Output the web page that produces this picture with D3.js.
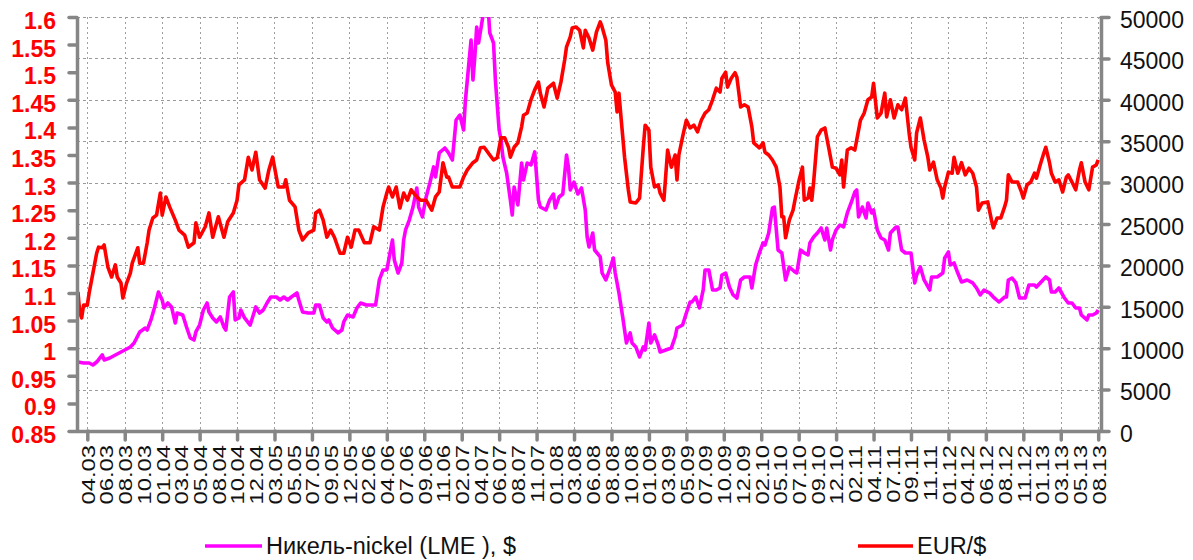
<!DOCTYPE html>
<html><head><meta charset="utf-8">
<script src="https://cdn.jsdelivr.net/npm/d3@7"></script>
<style>body{margin:0;background:#fff;} svg{display:block;}</style>
</head><body>
<svg id="chart" width="1193" height="560"></svg>
<script>
// ---- data ----
const tickLabels = ["04.03","06.03","08.03","10.03","01.04","03.04","05.04","08.04","10.04","12.04",
"03.05","05.05","07.05","09.05","12.05","02.06","04.06","07.06","09.06","11.06",
"02.07","04.07","06.07","08.07","11.07","01.08","03.08","06.08","08.08","10.08",
"01.09","03.09","05.09","07.09","10.09","12.09","02.10","05.10","07.10","09.10",
"12.10","02.11","04.11","07.11","09.11","11.11","01.12","04.12","06.12","08.12",
"11.12","01.13","03.13","05.13","08.13"];
const totalWeeks = 546;          // weekly observations
const firstLabelWeek = 5;        // week index of the first label
const labelEveryWeeks = 10;
const tickEveryWeeks = 20;

const leftTicks = [0.85,0.9,0.95,1,1.05,1.1,1.15,1.2,1.25,1.3,1.35,1.4,1.45,1.5,1.55,1.6];
const rightTicks = [0,5000,10000,15000,20000,25000,30000,35000,40000,45000,50000];

// EUR/$ : [week, rate]
const eurSeries = [[0,1.102],[1,1.064],[2,1.055],[3,1.078],[5,1.078],[6,1.100],[8,1.136],[10,1.172],[11,1.183],[13,1.182],[14,1.187],[16,1.147],[18,1.129],[20,1.151],[21,1.129],[23,1.118],[24,1.091],[26,1.118],[28,1.136],[29,1.154],[32,1.182],[33,1.154],[35,1.154],[37,1.191],[38,1.214],[40,1.236],[42,1.241],[44,1.281],[45,1.241],[47,1.274],[49,1.256],[52,1.232],[54,1.214],[57,1.205],[59,1.183],[62,1.191],[63,1.227],[65,1.201],[68,1.220],[70,1.245],[72,1.201],[75,1.238],[78,1.201],[80,1.229],[83,1.245],[85,1.268],[86,1.296],[89,1.305],[91,1.346],[93,1.323],[95,1.355],[97,1.305],[100,1.290],[102,1.323],[104,1.346],[107,1.292],[110,1.292],[111,1.305],[113,1.268],[116,1.256],[118,1.214],[120,1.196],[123,1.209],[126,1.214],[127,1.245],[129,1.250],[131,1.232],[133,1.201],[135,1.214],[137,1.201],[140,1.172],[142,1.172],[144,1.201],[146,1.183],[148,1.214],[150,1.214],[153,1.191],[156,1.191],[158,1.220],[161,1.214],[163,1.256],[165,1.281],[166,1.292],[168,1.274],[170,1.292],[172,1.254],[174,1.281],[176,1.268],[178,1.287],[181,1.274],[183,1.268],[186,1.268],[189,1.250],[191,1.274],[193,1.283],[195,1.336],[197,1.310],[198,1.310],[200,1.292],[204,1.292],[206,1.310],[208,1.323],[211,1.336],[213,1.341],[215,1.363],[217,1.364],[220,1.350],[222,1.341],[224,1.345],[226,1.381],[228,1.381],[230,1.364],[231,1.346],[233,1.364],[235,1.372],[237,1.401],[238,1.422],[240,1.426],[242,1.450],[244,1.468],[246,1.482],[247,1.462],[249,1.437],[251,1.471],[253,1.477],[254,1.480],[256,1.453],[258,1.482],[260,1.522],[261,1.546],[263,1.564],[264,1.580],[266,1.582],[268,1.576],[270,1.544],[271,1.576],[273,1.562],[275,1.540],[277,1.573],[279,1.591],[280,1.582],[282,1.558],[283,1.517],[285,1.477],[287,1.464],[288,1.428],[289,1.462],[290,1.422],[292,1.346],[294,1.287],[295,1.265],[298,1.263],[300,1.272],[302,1.364],[303,1.404],[305,1.395],[306,1.328],[308,1.292],[310,1.296],[311,1.281],[313,1.268],[315,1.359],[317,1.328],[319,1.350],[320,1.305],[321,1.350],[323,1.383],[325,1.413],[327,1.399],[329,1.404],[331,1.392],[333,1.413],[335,1.426],[337,1.432],[339,1.450],[341,1.471],[343,1.464],[344,1.489],[346,1.500],[347,1.473],[349,1.489],[351,1.499],[352,1.491],[354,1.437],[356,1.441],[358,1.437],[360,1.401],[361,1.372],[364,1.363],[366,1.372],[367,1.355],[369,1.350],[371,1.341],[373,1.328],[375,1.292],[376,1.238],[377,1.238],[378,1.200],[380,1.232],[382,1.250],[383,1.268],[385,1.301],[387,1.328],[388,1.268],[390,1.272],[391,1.290],[392,1.268],[393,1.301],[395,1.383],[397,1.395],[399,1.399],[401,1.364],[403,1.328],[405,1.326],[407,1.314],[408,1.341],[409,1.292],[411,1.359],[413,1.363],[415,1.359],[416,1.377],[418,1.413],[420,1.426],[422,1.450],[424,1.455],[425,1.480],[427,1.417],[429,1.426],[431,1.462],[432,1.419],[434,1.450],[436,1.417],[438,1.441],[440,1.432],[442,1.453],[444,1.390],[445,1.364],[447,1.341],[448,1.390],[450,1.417],[452,1.377],[454,1.346],[455,1.323],[457,1.337],[459,1.305],[461,1.290],[462,1.272],[463,1.292],[465,1.319],[467,1.317],[468,1.346],[470,1.317],[472,1.336],[474,1.314],[476,1.326],[478,1.317],[480,1.292],[481,1.250],[483,1.263],[486,1.265],[488,1.232],[489,1.218],[491,1.236],[493,1.236],[495,1.256],[496,1.268],[497,1.314],[499,1.301],[502,1.301],[504,1.283],[505,1.272],[507,1.296],[509,1.301],[511,1.317],[512,1.308],[514,1.332],[516,1.354],[517,1.364],[519,1.336],[520,1.317],[522,1.301],[524,1.305],[526,1.283],[528,1.310],[529,1.314],[531,1.301],[533,1.287],[535,1.323],[536,1.336],[538,1.301],[540,1.287],[542,1.328],[544,1.332],[545,1.341]];

// Nickel (LME), $ per tonne : [week, price]
const nickelSeries = [[0,8330],[3,8210],[6,8210],[8,7970],[10,8330],[13,9180],[14,8580],[17,8820],[20,9180],[22,9420],[25,9780],[28,10150],[30,10630],[33,11960],[36,12440],[37,12200],[39,13410],[41,14980],[43,16790],[45,15820],[46,14860],[48,15460],[50,14980],[52,13040],[53,14250],[56,14010],[58,12560],[60,11230],[62,10990],[63,11960],[65,12800],[67,14610],[69,15460],[70,14370],[72,13650],[74,13170],[76,13770],[78,12560],[79,12200],[81,16180],[83,16790],[84,13410],[86,13650],[87,14610],[89,13650],[92,12800],[94,14250],[95,14980],[97,14250],[99,14610],[101,15460],[103,16180],[106,16180],[108,15820],[110,16180],[112,15820],[114,16180],[117,16670],[118,15820],[120,14370],[123,14250],[126,14250],[127,15220],[129,15220],[131,13650],[133,13170],[134,13410],[136,12440],[139,11840],[141,12200],[142,13170],[144,14010],[147,13770],[149,14860],[151,15460],[154,15220],[157,15220],[159,15220],[161,18240],[163,19450],[165,19450],[166,20650],[168,23070],[169,20650],[171,19080],[173,20290],[174,23070],[175,24280],[177,25480],[179,27050],[181,29350],[182,27050],[184,25850],[186,28260],[188,29950],[190,31890],[191,30680],[193,33580],[196,34180],[198,33580],[200,32730],[202,37560],[204,38160],[206,36350],[207,39980],[208,42390],[210,47220],[211,42390],[212,45170],[213,48790],[214,46860],[216,49640],[217,51000],[219,51500],[220,48070],[222,46860],[223,42390],[225,36350],[226,35150],[227,33090],[229,31160],[231,27900],[232,26090],[233,29470],[235,27300],[237,32370],[238,30310],[240,32370],[242,32130],[244,33700],[246,27900],[247,27050],[250,26690],[252,27900],[254,28620],[255,26930],[257,28260],[259,28620],[261,33330],[262,31890],[263,29110],[265,30070],[267,28620],[269,29350],[271,26690],[272,23430],[273,22220],[275,23910],[276,21860],[279,21020],[280,19080],[282,18240],[284,19450],[286,20890],[287,19080],[289,16670],[291,13770],[293,10630],[295,11840],[296,10630],[298,10150],[300,8940],[302,10150],[303,9780],[305,13040],[306,10630],[308,11600],[310,10390],[311,9540],[314,9780],[317,10030],[319,11350],[320,12440],[323,12800],[325,14250],[327,15580],[328,15580],[330,16180],[332,14860],[334,17030],[335,19450],[337,19450],[339,17030],[341,17030],[343,17270],[344,18840],[346,19080],[348,17390],[350,16430],[352,16060],[354,18240],[356,18600],[359,18600],[360,17270],[362,20050],[364,21500],[366,22710],[367,22460],[369,23910],[371,26930],[372,27050],[374,21860],[376,21500],[378,18240],[380,19810],[383,19200],[384,19080],[386,21860],[388,21500],[390,21260],[391,22710],[393,23430],[395,23910],[397,24520],[399,23070],[400,24520],[402,21860],[403,23070],[405,24280],[407,24880],[409,24640],[411,26330],[413,27540],[415,28870],[416,29110],[417,25850],[419,27050],[421,25730],[422,27540],[424,26330],[425,26690],[427,24280],[429,23310],[431,23070],[433,21860],[434,23910],[437,24640],[438,24640],[440,21860],[442,21500],[445,21500],[447,17880],[448,18840],[450,19810],[452,18240],[455,17030],[456,18600],[459,18600],[462,19080],[463,20890],[465,21620],[466,20050],[468,20290],[470,19080],[472,18000],[475,18240],[478,17880],[480,17270],[482,16430],[484,17030],[487,16670],[489,16180],[492,15580],[495,16180],[496,16180],[497,18240],[499,18480],[501,17880],[503,16060],[506,16060],[508,17630],[511,17630],[512,17390],[514,17880],[517,18600],[519,18240],[520,16790],[522,16790],[524,17270],[527,16060],[529,15460],[531,15460],[533,14860],[535,14860],[536,14010],[539,13410],[540,14010],[542,14010],[544,14250],[545,14610]];

const seriesNames = ["Никель-nickel (LME ), $", "EUR/$"];
const seriesColors = ["#FF00FF", "#FF0000"];

// ---- layout ----
const W = 1193, H = 560;
const plot = {left: 77, right: 1101, top: 17, bottom: 431};
const axisColor = "#868686";

const svg = d3.select("#chart");
const x = d3.scaleLinear().domain([-0.5, totalWeeks + 0.5]).range([plot.left, plot.right]);
const yL = d3.scaleLinear().domain([0.85, 1.6]).range([plot.bottom, plot.top]);
const yR = d3.scaleLinear().domain([0, 50000]).range([plot.bottom, plot.top]);

const labelWeeks = tickLabels.map((_, i) => firstLabelWeek + i * labelEveryWeeks);
const tickWeeks = labelWeeks.filter((_, i) => i % (tickEveryWeeks / labelEveryWeeks) === 0);

// gridlines
const grid = svg.append("g");
grid.selectAll("line.h").data(rightTicks).join("line")
  .attr("x1", plot.left).attr("x2", plot.right)
  .attr("y1", d => Math.round(yR(d)) + 0.5).attr("y2", d => Math.round(yR(d)) + 0.5)
  .attr("stroke", "#9a9a9a").attr("stroke-width", 1).attr("stroke-dasharray", "3,3");
grid.selectAll("line.v").data(tickWeeks).join("line")
  .attr("x1", d => Math.round(x(d)) + 0.5).attr("x2", d => Math.round(x(d)) + 0.5)
  .attr("y1", plot.top).attr("y2", plot.bottom)
  .attr("stroke", "#a0a0a0").attr("stroke-width", 1).attr("stroke-dasharray", "2,3");

// clip
svg.append("clipPath").attr("id", "clip").append("rect")
  .attr("x", plot.left).attr("y", plot.top)
  .attr("width", plot.right - plot.left).attr("height", plot.bottom - plot.top);

const lines = svg.append("g").attr("clip-path", "url(#clip)");
lines.append("path").datum(nickelSeries)
  .attr("fill", "none").attr("stroke", seriesColors[0]).attr("stroke-width", 3.6)
  .attr("stroke-linejoin", "round")
  .attr("d", d3.line().x(d => x(d[0])).y(d => yR(d[1])));
lines.append("path").datum(eurSeries)
  .attr("fill", "none").attr("stroke", seriesColors[1]).attr("stroke-width", 3.6)
  .attr("stroke-linejoin", "round")
  .attr("d", d3.line().x(d => x(d[0])).y(d => yL(d[1])));

function styleAxis(g) {
  g.select(".domain").attr("stroke", axisColor).attr("stroke-width", 3.5);
  g.selectAll(".tick line").attr("stroke", axisColor).attr("stroke-width", 3.5).attr("stroke-linecap", "round");
}

// left axis
const gL = svg.append("g").attr("transform", `translate(${plot.left},0)`)
  .call(d3.axisLeft(yL).tickValues(leftTicks).tickSize(8).tickSizeOuter(0).tickPadding(13)
    .tickFormat(d => String(+d.toFixed(2))));
styleAxis(gL);
gL.selectAll(".tick text").attr("fill", "#FF0000").attr("font-family", "Liberation Sans, Arial, sans-serif")
  .attr("font-weight", "bold").attr("font-size", 23).attr("dy", "0.5em");

// right axis
const gR = svg.append("g").attr("transform", `translate(${plot.right},0)`)
  .call(d3.axisRight(yR).tickValues(rightTicks).tickSize(8).tickSizeOuter(0).tickPadding(11)
    .tickFormat(d => String(d)));
styleAxis(gR);
gR.selectAll(".tick text").attr("fill", "#111").attr("font-family", "Liberation Sans, Arial, sans-serif")
  .attr("font-size", 23).attr("dy", "0.45em");

// bottom axis: tick marks
const gB = svg.append("g").attr("transform", `translate(0,${plot.bottom})`)
  .call(d3.axisBottom(x).tickValues(tickWeeks).tickSize(9).tickSizeOuter(0).tickFormat(""));
styleAxis(gB);
gB.select(".domain").attr("d", `M${plot.left},0.5H${plot.right}`);

// bottom axis: labels
const gBL = svg.append("g").attr("transform", `translate(0,${plot.bottom})`)
  .call(d3.axisBottom(x).tickValues(labelWeeks).tickSize(0).tickFormat((d, i) => tickLabels[i]));
gBL.select(".domain").remove();
gBL.selectAll(".tick text")
  .attr("font-family", "Liberation Sans, Arial, sans-serif").attr("font-size", 19).attr("fill", "#111")
  .attr("text-anchor", "end").attr("x", 0).attr("y", 0).attr("dy", "0.36em")
  .attr("transform", "translate(0,14) rotate(-90) scale(1.25,1)");

// legend
const legend = [
  {name: seriesNames[0], color: seriesColors[0], x1: 205, x2: 262},
  {name: seriesNames[1], color: seriesColors[1], x1: 858, x2: 913}
];
const lg = svg.append("g");
legend.forEach(l => {
  lg.append("line").attr("x1", l.x1).attr("x2", l.x2).attr("y1", 546).attr("y2", 546)
    .attr("stroke", l.color).attr("stroke-width", 3.5);
  lg.append("text").attr("x", l.x2 + 4).attr("y", 546).attr("dy", "0.36em")
    .attr("font-family", "Liberation Sans, Arial, sans-serif").attr("font-size", 23.5)
    .attr("fill", "#111").text(l.name);
});
</script>
</body></html>
